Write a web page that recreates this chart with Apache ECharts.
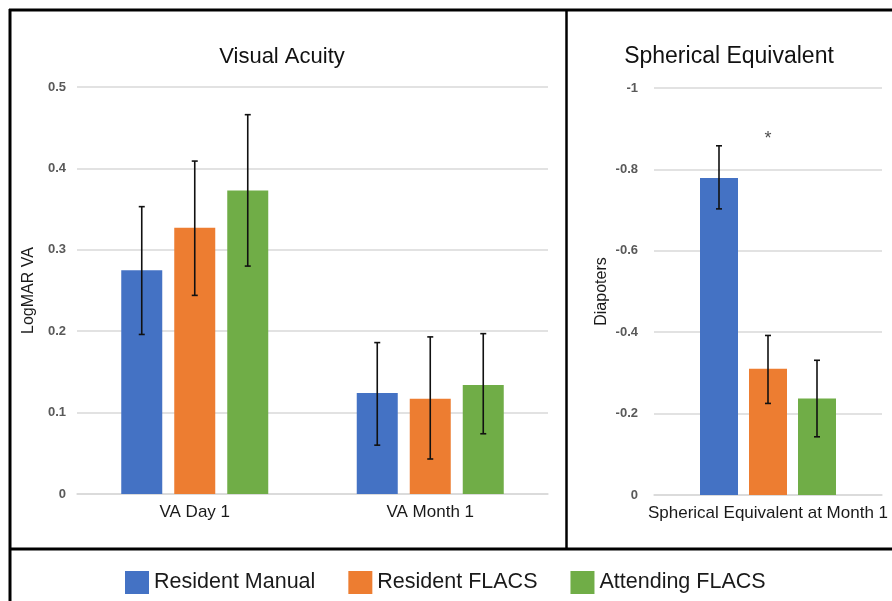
<!DOCTYPE html>
<html><head><meta charset="utf-8">
<script src="https://cdn.jsdelivr.net/npm/echarts@6/dist/echarts.min.js"></script>
<style>html,body{margin:0;padding:0;background:#fff}#c{width:892px;height:601px}</style>
</head><body><div id="c"></div>
<script>
// ---- data ----
const seriesNames = ['Resident Manual', 'Resident FLACS', 'Attending FLACS'];
const colors = ['#4472c4', '#ed7d31', '#70ad47'];

const vaCategories = ['VA Day 1', 'VA Month 1'];
const vaResidentManual = [0.275, 0.124];
const vaResidentFlacs = [0.327, 0.117];
const vaAttendingFlacs = [0.373, 0.134];
const vaLowResidentManual = [0.196, 0.060];
const vaHighResidentManual = [0.353, 0.186];
const vaLowResidentFlacs = [0.244, 0.043];
const vaHighResidentFlacs = [0.409, 0.193];
const vaLowAttendingFlacs = [0.280, 0.074];
const vaHighAttendingFlacs = [0.466, 0.197];

const seCategories = ['Spherical Equivalent at Month 1'];
const seResidentManual = [-0.779];
const seResidentFlacs = [-0.310];
const seAttendingFlacs = [-0.237];
const seLowResidentManual = [-0.858];
const seHighResidentManual = [-0.703];
const seLowResidentFlacs = [-0.392];
const seHighResidentFlacs = [-0.225];
const seLowAttendingFlacs = [-0.331];
const seHighAttendingFlacs = [-0.143];
const seSignificance = [{ category: 0, value: -0.875, mark: '*' }];

const vaTicks = { min: 0, max: 0.5, interval: 0.1 };
const seTicks = { min: -1, max: 0, interval: 0.2 };

// ---- build ----
const chart = echarts.init(document.getElementById('c'), null, { renderer: 'canvas' });
const FONT = 'Liberation Sans, Arial, sans-serif';

const vaVals = [vaResidentManual, vaResidentFlacs, vaAttendingFlacs];
const vaLow = [vaLowResidentManual, vaLowResidentFlacs, vaLowAttendingFlacs];
const vaHigh = [vaHighResidentManual, vaHighResidentFlacs, vaHighAttendingFlacs];
const seVals = [seResidentManual, seResidentFlacs, seAttendingFlacs];
const seLow = [seLowResidentManual, seLowResidentFlacs, seLowAttendingFlacs];
const seHigh = [seHighResidentManual, seHighResidentFlacs, seHighAttendingFlacs];

const LB = { w: 41, gap: 12 };
const RB = { w: 38, gap: 11 };

function errSeries(idx, gridIdx, low, high, bw) {
  const off = (idx - 1) * (bw.w + bw.gap);
  return {
    type: 'custom', name: 'err' + gridIdx + '_' + idx,
    xAxisIndex: gridIdx, yAxisIndex: gridIdx, z: 10, silent: true,
    data: low.map((l, i) => [i, l, high[i]]),
    encode: { x: 0, y: [1, 2] },
    renderItem: function (params, api) {
      const p1 = api.coord([api.value(0), api.value(1)]);
      const p2 = api.coord([api.value(0), api.value(2)]);
      const x = p1[0] + off;
      const cap = 3;
      const st = { stroke: '#111', lineWidth: 1.6 };
      return { type: 'group', children: [
        { type: 'line', shape: { x1: x, y1: p1[1], x2: x, y2: p2[1] }, style: st },
        { type: 'line', shape: { x1: x - cap, y1: p1[1], x2: x + cap, y2: p1[1] }, style: st },
        { type: 'line', shape: { x1: x - cap, y1: p2[1], x2: x + cap, y2: p2[1] }, style: st }
      ]};
    }
  };
}

const series = [];
seriesNames.forEach((n, i) => {
  series.push({ type: 'bar', name: n, xAxisIndex: 0, yAxisIndex: 0, data: vaVals[i],
    barWidth: LB.w, barGap: (LB.gap / LB.w * 100) + '%', itemStyle: { color: colors[i] } });
});
seriesNames.forEach((n, i) => {
  series.push({ type: 'bar', name: n, xAxisIndex: 1, yAxisIndex: 1, data: seVals[i],
    barWidth: RB.w, barGap: (RB.gap / RB.w * 100) + '%', itemStyle: { color: colors[i] } });
});
for (let i = 0; i < 3; i++) series.push(errSeries(i, 0, vaLow[i], vaHigh[i], LB));
for (let i = 0; i < 3; i++) series.push(errSeries(i, 1, seLow[i], seHigh[i], RB));
series.push({
  type: 'scatter', name: 'sig', xAxisIndex: 1, yAxisIndex: 1, symbolSize: 0, silent: true,
  data: seSignificance.map(d => ({ value: [d.category, d.value], mark: d.mark })),
  label: { show: true, position: 'inside', formatter: p => p.data.mark, color: '#222', fontSize: 18, fontFamily: FONT }
});

const axisLabel = { color: '#595959', fontSize: 13, fontFamily: FONT, fontWeight: 'bold' };
const splitLine = { show: true, lineStyle: { color: '#d9d9d9', width: 1.5 } };
const nameStyle = { color: '#1a1a1a', fontSize: 16, fontFamily: FONT };

const option = {
  animation: false,
  backgroundColor: '#fff',
  title: [
    { text: 'Visual Acuity', left: 277, top: 41, textAlign: 'center',
      textStyle: { fontSize: 22, fontWeight: 'normal', color: '#111', fontFamily: FONT } },
    { text: 'Spherical Equivalent', left: 724, top: 40, textAlign: 'center',
      textStyle: { fontSize: 23, fontWeight: 'normal', color: '#111', fontFamily: FONT } }
  ],
  legend: {
    data: seriesNames, left: 120, top: 566, icon: 'rect', itemWidth: 24, itemHeight: 23, itemGap: 33,
    textStyle: { fontSize: 21.5, color: '#1a1a1a', fontFamily: FONT }
  },
  grid: [
    { left: 77, right: 344, top: 87, bottom: 107 },
    { left: 654, right: 10, top: 88, bottom: 106 }
  ],
  xAxis: [
    { type: 'category', gridIndex: 0, data: vaCategories,
      axisLine: { lineStyle: { color: '#d9d9d9', width: 1.5 } }, axisTick: { show: false },
      axisLabel: { color: '#1a1a1a', fontSize: 17, fontFamily: FONT, margin: 10 } },
    { type: 'category', gridIndex: 1, data: seCategories,
      axisLine: { lineStyle: { color: '#d9d9d9', width: 1.5 } }, axisTick: { show: false },
      axisLabel: { color: '#1a1a1a', fontSize: 17, fontFamily: FONT, margin: 10 } }
  ],
  yAxis: [
    { type: 'value', gridIndex: 0, min: vaTicks.min, max: vaTicks.max, interval: vaTicks.interval,
      name: 'LogMAR VA', nameLocation: 'middle', nameGap: 37, nameTextStyle: nameStyle,
      axisLine: { show: false }, axisTick: { show: false },
      axisLabel: Object.assign({ margin: 11 }, axisLabel), splitLine },
    { type: 'value', gridIndex: 1, min: seTicks.min, max: seTicks.max, interval: seTicks.interval, inverse: true,
      name: 'Diapoters', nameLocation: 'middle', nameGap: 44, nameTextStyle: nameStyle,
      axisLine: { show: false }, axisTick: { show: false },
      axisLabel: Object.assign({ margin: 16 }, axisLabel), splitLine }
  ],
  graphic: [
    { type: 'line', shape: { x1: 9, y1: 10, x2: 892, y2: 10 }, style: { stroke: '#000', lineWidth: 3 } },
    { type: 'line', shape: { x1: 10, y1: 9, x2: 10, y2: 601 }, style: { stroke: '#000', lineWidth: 3 } },
    { type: 'line', shape: { x1: 566.5, y1: 9, x2: 566.5, y2: 549 }, style: { stroke: '#000', lineWidth: 2.5 } },
    { type: 'line', shape: { x1: 9, y1: 549, x2: 892, y2: 549 }, style: { stroke: '#000', lineWidth: 3 } }
  ],
  series
};
chart.setOption(option);
</script></body></html>
